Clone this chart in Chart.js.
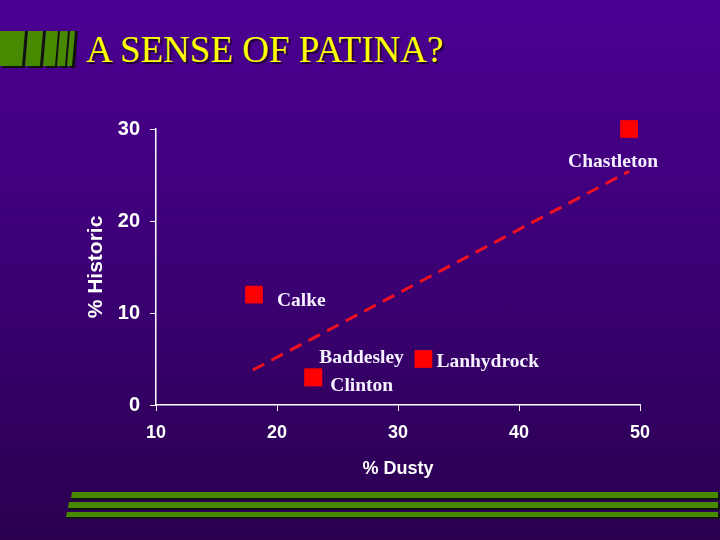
<!DOCTYPE html>
<html>
<head>
<meta charset="utf-8">
<script src="https://cdn.jsdelivr.net/npm/chart.js@4"></script>
<style>
  html, body { margin: 0; padding: 0; }
  body {
    width: 720px; height: 540px; overflow: hidden; position: relative;
    background: linear-gradient(to bottom, #4b0092 0%, #3c0075 50%, #2a004f 100%);
  }
  #title {
    position: absolute; left: 86px; top: 28px; margin: 0;
    font: 37px "Liberation Serif", "Times New Roman", serif;
    color: #ffff00; text-shadow: 2px 2px 1px #1a0030; white-space: nowrap;
  }
  #deco { position: absolute; left: 0; top: 0; }
  #chart { position: absolute; left: 0; top: 0; }
</style>
</head>
<body>
<svg id="deco" width="720" height="540">
  <g fill="#111">
    <polygon points="2,31 28,31 25,68 2,68"/>
    <polygon points="31,31 46,31 43,68 28,68"/>
    <polygon points="49,31 61,31 58,68 46,68"/>
    <polygon points="63,31 71,31 68,68 60,68"/>
    <polygon points="73,31 78,31 75,68 70,68"/>
    <polygon points="73,494 720,494 720,500 72,500"/>
    <polygon points="70,504 720,504 720,510 69,510"/>
    <polygon points="68,514 720,514 720,519 67,519"/>
  </g>
  <g fill="#478a00">
    <polygon points="0,31 25,31 22,66 0,66"/>
    <polygon points="28,31 43,31 40,66 25,66"/>
    <polygon points="46,31 58,31 55,66 43,66"/>
    <polygon points="60,31 68,31 65,66 57,66"/>
    <polygon points="70,31 75,31 72,66 67,66"/>
    <polygon points="72,492 718,492 718,498 71,498"/>
    <polygon points="69,502 718,502 718,508 68,508"/>
    <polygon points="67,512 718,512 718,517 66,517"/>
  </g>
</svg>
<h1 id="title">A SENSE OF PATINA?</h1>
<canvas id="chart" width="720" height="540"></canvas>
<script>
const houses = ['Chastleton', 'Calke', 'Baddesley', 'Clinton', 'Lanhydrock'];
const dusty = [49.1, 18.1, 23.0, 23.0, 32.1];
const historic = [30, 12, 3, 3, 5];
const trendX = [18.0, 49.1];
const trendY = [3.8, 25.4];
const xTicks = [10, 20, 30, 40, 50];
const yTicks = [0, 10, 20, 30];

// label placement relative to each marker (px), by house name
const labelOffset = {
    Chastleton: [-61, 38], Calke: [23, 11], Baddesley: [6, -14],
    Clinton: [17, 14], Lanhydrock: [13, 8]
};

const sans = '"Liberation Sans", Arial, sans-serif';

const pointLabels = {
    id: 'pointLabels',
    afterDatasetsDraw(chart) {
        const ctx = chart.ctx;
        const meta = chart.getDatasetMeta(0);
        ctx.save();
        ctx.font = 'bold 19.5px "Liberation Serif", "Times New Roman", serif';
        ctx.fillStyle = '#f4f0ff';
        ctx.textAlign = 'left';
        ctx.textBaseline = 'alphabetic';
        meta.data.forEach((el, i) => {
            const off = labelOffset[houses[i]];
            ctx.fillText(houses[i], el.x + off[0], el.y + off[1]);
        });
        ctx.restore();
    }
};

new Chart(document.getElementById('chart'), {
    type: 'scatter',
    data: {
        datasets: [
            {
                label: 'Houses',
                data: houses.map((h, i) => ({ x: dusty[i], y: historic[i] })),
                pointStyle: 'rect', pointRadius: 12.5, pointHoverRadius: 12.5,
                backgroundColor: '#ff0000', borderWidth: 0, clip: false
            },
            {
                label: 'Trend',
                type: 'line',
                data: trendX.map((x, i) => ({ x: x, y: trendY[i] })),
                borderColor: '#f01020', borderWidth: 3, borderDash: [13, 8],
                pointRadius: 0, fill: false
            }
        ]
    },
    options: {
        responsive: false, animation: false, devicePixelRatio: 1,
        layout: { padding: { top: 129, right: 80, left: 0, bottom: 0 } },
        plugins: { legend: { display: false }, tooltip: { enabled: false } },
        scales: {
            x: {
                type: 'linear', min: xTicks[0], max: xTicks[xTicks.length - 1],
                afterBuildTicks: s => { s.ticks = xTicks.map(v => ({ value: v })); },
                afterFit: s => { s.height = 135; },
                ticks: { color: '#ffffff', padding: 11, font: { family: sans, size: 18, weight: 'bold' } },
                grid: { drawOnChartArea: false, color: '#ffffff', tickLength: 6 },
                border: { color: '#ffffff', width: 1.5 },
                title: { display: true, text: '% Dusty', color: '#ffffff', padding: { top: 0, bottom: 60 },
                         font: { family: sans, size: 18, weight: 'bold' } }
            },
            y: {
                type: 'linear', min: yTicks[0], max: yTicks[yTicks.length - 1],
                afterBuildTicks: s => { s.ticks = yTicks.map(v => ({ value: v })); },
                afterFit: s => { s.width = 156; },
                ticks: { color: '#ffffff', padding: 10, font: { family: sans, size: 20, weight: 'bold' } },
                grid: { drawOnChartArea: false, color: '#ffffff', tickLength: 6 },
                border: { color: '#ffffff', width: 1.5 },
                title: { display: true, text: '% Historic', color: '#ffffff', padding: { top: 84, bottom: 0 },
                         font: { family: sans, size: 21, weight: 'bold' } }
            }
        }
    },
    plugins: [pointLabels]
});
</script>
</body>
</html>
